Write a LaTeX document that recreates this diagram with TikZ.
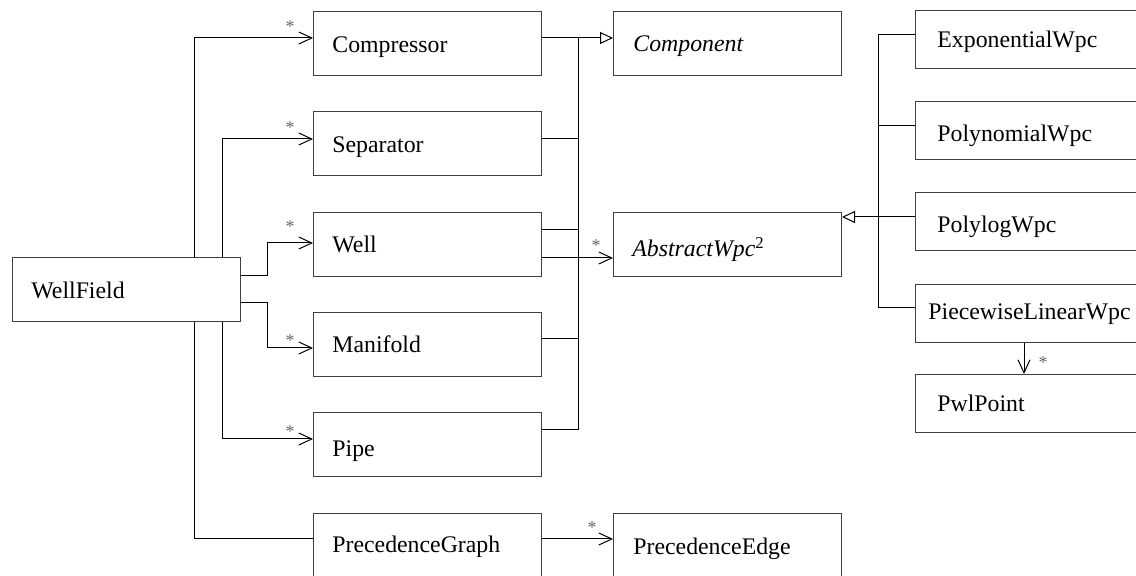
\documentclass[tikz,border=0pt]{standalone}
\usepackage{fontspec}
\setmainfont{Liberation Serif}
\usetikzlibrary{arrows.meta}

\begin{document}
\begin{tikzpicture}[x=0.5pt,y=-0.5pt,
  cls/.style={draw=black!75, line width=0.5pt, fill=white, rectangle,
    inner sep=0pt, anchor=north west, minimum width=114pt, minimum height=32pt},
  rcls/.style={cls, minimum height=29pt},
  lbl/.style={anchor=base west, inner sep=0pt, font=\fontsize{11.9}{14}\selectfont},
  mult/.style={inner sep=0pt, text=black!60, font=\fontsize{9}{10}\selectfont},
  conn/.style={line width=0.5pt, black},
  assoc/.style={conn, -{Straight Barb[length=6.5pt,width=6pt]}},
  gen/.style={conn, -{Triangle[open,length=6.5pt,width=6pt,fill=white]}}]
\useasboundingbox (0,0) rectangle (1136,576);
\clip (0,0) rectangle (1136,576);

% classes
\node[cls] (wf)   at (12,257)  {};
\node[cls] (comp) at (313,11)  {};
\node[cls] (sep)  at (313,111) {};
\node[cls] (well) at (313,212) {};
\node[cls] (man)  at (313,312) {};
\node[cls] (pipe) at (313,412) {};
\node[cls] (pg)   at (313,513) {};
\node[cls] (cmp)  at (613,11)  {};
\node[cls] (awpc) at (613,212) {};
\node[cls] (pe)   at (613,513) {};
\node[rcls] (ewpc) at (915,10)  {};
\node[rcls] (poly) at (915,101) {};
\node[rcls] (plog) at (915,192) {};
\node[rcls] (pwl)  at (915,284) {};
\node[rcls] (pt)   at (915,374) {};

% class names
\node[lbl] (wf-t)   at (31,299)  {WellField};
\node[lbl] (comp-t) at (332,53)  {Compressor};
\node[lbl] (sep-t)  at (332,153) {Separator};
\node[lbl] (well-t) at (332,253) {Well};
\node[lbl] (man-t)  at (332,353) {Manifold};
\node[lbl] (pipe-t) at (332,457) {Pipe};
\node[lbl] (pg-t)   at (332,553) {PrecedenceGraph};
\node[lbl] (cmp-t)  at (633,52)  {\itshape Component};
\node[lbl] (awpc-t) at (632,257) {\itshape AbstractWpc$^{\mathrm{2}}$};
\node[lbl] (pe-t)   at (633,555) {PrecedenceEdge};
\node[lbl] (ewpc-t) at (937,48)  {ExponentialWpc};
\node[lbl] (poly-t) at (937,142) {PolynomialWpc};
\node[lbl] (plog-t) at (937,233) {PolylogWpc};
\node[lbl] (pwl-t)  at (928,320) {PiecewiseLinearWpc};
\node[lbl] (pt-t)   at (937,412) {PwlPoint};

% associations from WellField
\draw[assoc] (wf.north -| 194,0) |- (comp.west |- 0,38);
\draw[assoc] (wf.north -| 222,0) |- (sep.west |- 0,139);
\draw[assoc] (wf.east |- 0,276) -| (267,243) -- (well.west |- 0,243);
\draw[assoc] (wf.east |- 0,303) -| (267,348) -- (man.west |- 0,348);
\draw[assoc] (wf.south -| 222,0) |- (pipe.west |- 0,439);
\draw[conn]  (wf.south -| 194,0) |- (pg.west |- 0,539);
\draw[assoc] (pg.east |- 0,539) -- (pe.west |- 0,539);
\draw[assoc] (well.east |- 0,258) -- (awpc.west |- 0,258);
\draw[assoc] (pwl.south -| 1024,0) -- (pt.north -| 1024,0);

% generalization to Component
\draw[gen]  (comp.east |- 0,38) -- (cmp.west |- 0,38);
\draw[conn] (pipe.east |- 0,430) -| (578,38);
\draw[conn] (sep.east |- 0,139) -- (578,139);
\draw[conn] (well.east |- 0,230) -- (578,230);
\draw[conn] (man.east |- 0,339) -- (578,339);

% generalization to AbstractWpc
\draw[gen]  (plog.west |- 0,217) -- (awpc.east |- 0,217);
\draw[conn] (ewpc.west |- 0,35) -| (878,308) -- (pwl.west |- 0,308);
\draw[conn] (poly.west |- 0,126) -- (878,126);

% multiplicities
\node[mult] (m1) at (290,27)  {*};
\node[mult] (m2) at (290,128) {*};
\node[mult] (m3) at (290,227) {*};
\node[mult] (m4) at (290,341) {*};
\node[mult] (m5) at (290,432) {*};
\node[mult] (m6) at (596,246) {*};
\node[mult] (m7) at (592,528) {*};
\node[mult] (m8) at (1043,363) {*};
\end{tikzpicture}
\end{document}
